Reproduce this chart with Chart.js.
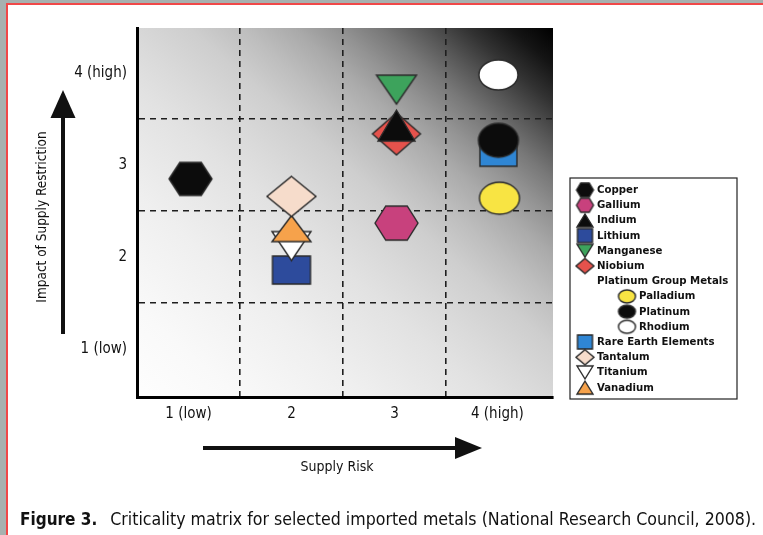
<!DOCTYPE html>
<html>
<head>
<meta charset="utf-8">
<script src="https://cdn.jsdelivr.net/npm/chart.js@4.4.0/dist/chart.umd.min.js"></script>
<style>
html, body { margin: 0; padding: 0; width: 763px; height: 535px; overflow: hidden; background: #a7b1af; }
#page { position: absolute; left: 6px; top: 3px; width: 757px; height: 532px; background: #fff;
        border-left: 2px solid #f04848; border-top: 2px solid #f04848; box-sizing: border-box; }
#wrap { position: absolute; left: 0; top: 0; width: 763px; height: 535px; }
#caption { position: absolute; left: 20px; top: 509px; white-space: nowrap; color: #111;
           font: 17.6px "Liberation Sans Narrow", "DejaVu Sans Condensed", sans-serif; }
#caption b { font-size: 17px; margin-right: 13px; }
</style>
</head>
<body>
<div id="page"></div>
<div id="wrap"><canvas id="matrix"></canvas></div>
<div id="caption"><b>Figure 3.</b>Criticality matrix for selected imported metals (National Research Council, 2008).</div>
<script>
// data
const metals = ['Copper', 'Gallium', 'Indium', 'Lithium', 'Manganese', 'Niobium', 'Palladium',
                'Platinum', 'Rhodium', 'Rare Earth Elements', 'Tantalum', 'Titanium', 'Vanadium'];
const metalGroup = ['', '', '', '', '', '', 'Platinum Group Metals',
                    'Platinum Group Metals', 'Platinum Group Metals', '', '', '', ''];
const supplyRisk = [1.02, 3.02, 3.02, 2.0, 3.02, 3.02, 4.02, 4.01, 4.01, 4.01, 2.0, 2.0, 2.0];
const impact = [2.85, 2.37, 3.43, 1.86, 3.82, 3.34, 2.64, 3.27, 3.98, 3.14, 2.66, 2.12, 2.31];
const tickValues = [1, 2, 3, 4];
const tickLabels = ['1 (low)', '2', '3', '4 (high)'];
const cellEdges = [1.5, 2.5, 3.5];

// marker look per metal: shape, plot size, fill
const shapes = ['hex', 'hex', 'triUp', 'rect', 'triDown', 'diamond', 'ellipse',
                'ellipse', 'ellipse', 'rect', 'diamond', 'triDown', 'triUp'];
const fills = ['#0c0c0c', '#c8417d', '#0c0c0c', '#2d4b9c', '#3da35c', '#e5524c', '#f8e443',
               '#0c0c0c', '#ffffff', '#2f86d4', '#f6dccb', '#ffffff', '#f6a24b'];
const plotSizes = [[43, 33], [43, 34], [37, 31], [38, 28], [40, 29], [48, 42], [40, 32],
                   [40, 34], [39, 30], [37, 28], [49, 40], [39, 29], [39, 26]];
// lower number is drawn on top
const drawOrder = [0, 0, 1, 3, 0, 2, 0, 1, 0, 2, 0, 2, 1];

const FONT = "'Liberation Sans Narrow', 'DejaVu Sans Condensed', sans-serif";

// draws one marker shape into its own small canvas, used as pointStyle
function makeMarker(shape, w, h, fill) {
    const pad = 2;
    const c = document.createElement('canvas');
    c.width = w + pad * 2;
    c.height = h + pad * 2;
    const g = c.getContext('2d');
    const l = pad, t = pad, r = pad + w, b = pad + h;
    const cx = pad + w / 2, cy = pad + h / 2;
    g.beginPath();
    if (shape === 'hex') {
        g.moveTo(l, cy); g.lineTo(l + w * 0.25, t); g.lineTo(l + w * 0.75, t);
        g.lineTo(r, cy); g.lineTo(l + w * 0.75, b); g.lineTo(l + w * 0.25, b);
    } else if (shape === 'triUp') {
        g.moveTo(cx, t); g.lineTo(r, b); g.lineTo(l, b);
    } else if (shape === 'triDown') {
        g.moveTo(l, t); g.lineTo(r, t); g.lineTo(cx, b);
    } else if (shape === 'diamond') {
        g.moveTo(cx, t); g.lineTo(r, cy); g.lineTo(cx, b); g.lineTo(l, cy);
    } else if (shape === 'rect') {
        g.rect(l, t, w, h);
    } else {
        g.ellipse(cx, cy, w / 2, h / 2, 0, 0, Math.PI * 2);
    }
    g.closePath();
    g.fillStyle = fill;
    g.fill();
    g.lineWidth = 1.4;
    g.strokeStyle = '#2a2a2a';
    g.stroke();
    return c;
}

function legendSize(shape) {
    if (shape === 'hex') return [17, 14];
    if (shape === 'diamond') return [18, 15];
    if (shape === 'ellipse') return [17, 13];
    if (shape === 'rect') return [15, 14];
    return [16, 13];
}

const datasets = metals.map((name, i) => ({
    label: name,
    data: [{ x: supplyRisk[i], y: impact[i] }],
    pointStyle: makeMarker(shapes[i], plotSizes[i][0], plotSizes[i][1], fills[i]),
    pointRadius: 15,
    order: drawOrder[i]
}));

// diagonal shading behind the cells: black at top right, white at bottom left
const shadePlugin = {
    id: 'shade',
    beforeDraw(chart) {
        const { ctx, chartArea: a } = chart;
        const grad = ctx.createLinearGradient(a.right, a.top, a.left + 40, a.bottom + 60);
        grad.addColorStop(0, '#000000');
        grad.addColorStop(0.05, '#141414');
        grad.addColorStop(0.1, '#323232');
        grad.addColorStop(0.15, '#565656');
        grad.addColorStop(0.2, '#787878');
        grad.addColorStop(0.25, '#939393');
        grad.addColorStop(0.3, '#aaaaaa');
        grad.addColorStop(0.36, '#bebebe');
        grad.addColorStop(0.42, '#cecece');
        grad.addColorStop(0.5, '#dadada');
        grad.addColorStop(0.56, '#e2e2e2');
        grad.addColorStop(0.7, '#efefef');
        grad.addColorStop(0.85, '#f9f9f9');
        grad.addColorStop(1, '#ffffff');
        ctx.save();
        ctx.fillStyle = grad;
        ctx.fillRect(a.left, a.top, a.right - a.left, a.bottom - a.top);
        ctx.restore();
    }
};

// arrows, axis titles and the boxed legend
const decorPlugin = {
    id: 'decor',
    afterDraw(chart) {
        const { ctx, chartArea: a } = chart;
        ctx.save();
        ctx.fillStyle = '#111';
        ctx.strokeStyle = '#111';

        // vertical arrow
        ctx.lineWidth = 4;
        ctx.beginPath();
        ctx.moveTo(a.left - 74, a.bottom - 63);
        ctx.lineTo(a.left - 74, a.top + 86);
        ctx.stroke();
        ctx.beginPath();
        ctx.moveTo(a.left - 74, a.top + 62);
        ctx.lineTo(a.left - 61.5, a.top + 90);
        ctx.lineTo(a.left - 86.5, a.top + 90);
        ctx.closePath();
        ctx.fill();

        // horizontal arrow
        ctx.beginPath();
        ctx.moveTo(a.left + 66, a.bottom + 51);
        ctx.lineTo(a.left + 322, a.bottom + 51);
        ctx.stroke();
        ctx.beginPath();
        ctx.moveTo(a.left + 345, a.bottom + 51);
        ctx.lineTo(a.left + 318, a.bottom + 40);
        ctx.lineTo(a.left + 318, a.bottom + 62);
        ctx.closePath();
        ctx.fill();

        ctx.textAlign = 'center';
        ctx.textBaseline = 'middle';
        ctx.font = '14px ' + FONT;
        ctx.fillText('Supply Risk', a.left + 200, a.bottom + 70);
        ctx.save();
        ctx.translate(a.left - 95, a.top + 189);
        ctx.rotate(-Math.PI / 2);
        ctx.font = '13.5px ' + FONT;
        ctx.fillText('Impact of Supply Restriction', 0, 0);
        ctx.restore();

        // legend box
        const boxL = a.right + 17, boxT = a.top + 150;
        ctx.lineWidth = 1.2;
        ctx.strokeStyle = '#222';
        ctx.strokeRect(boxL, boxT, 167, 221);
        ctx.font = 'bold 11.3px ' + FONT;
        ctx.textAlign = 'left';
        let rowY = boxT + 12;
        let lastGroup = '';
        metals.forEach((name, i) => {
            const group = metalGroup[i];
            if (group && group !== lastGroup) {
                ctx.fillText(group, boxL + 27, rowY);
                rowY += 15.2;
            }
            lastGroup = group;
            const indent = group ? 42 : 0;
            const [w, h] = legendSize(shapes[i]);
            const m = makeMarker(shapes[i], w, h, fills[i]);
            ctx.drawImage(m, boxL + 15 + indent - m.width / 2, rowY - m.height / 2);
            ctx.fillText(name, boxL + 27 + indent, rowY);
            rowY += 15.2;
        });
        ctx.restore();
    }
};

function gridColor(c) {
    return c.tick && cellEdges.includes(c.tick.value) ? '#1e1e1e' : 'rgba(0,0,0,0)';
}

function labelFor(value) {
    const k = tickValues.indexOf(value);
    return k >= 0 ? tickLabels[k] : '';
}

function setTicks(scale) {
    scale.ticks = tickValues.concat(cellEdges).sort((p, q) => p - q).map(v => ({ value: v }));
}

new Chart(document.getElementById('matrix'), {
    type: 'scatter',
    data: { datasets: datasets },
    options: {
        responsive: true,
        maintainAspectRatio: false,
        animation: false,
        events: [],
        layout: { padding: { left: 0, top: 28, right: 210, bottom: 98 } },
        plugins: { legend: { display: false }, tooltip: { enabled: false } },
        scales: {
            x: {
                type: 'linear',
                min: 0.5,
                max: 4.54,
                afterBuildTicks: setTicks,
                afterFit(scale) { scale.height = 40; },
                ticks: { callback: labelFor, color: '#111', padding: 8, autoSkip: false, maxRotation: 0,
                         font: { family: FONT, size: 15 } },
                grid: { color: gridColor, lineWidth: 1.6, drawTicks: false },
                border: { color: '#000', width: 3, dash: [6, 5] }
            },
            y: {
                type: 'linear',
                min: 0.48,
                max: 4.49,
                afterBuildTicks: setTicks,
                afterFit(scale) { scale.width = 137; },
                ticks: { callback: labelFor, color: '#111', padding: 10, autoSkip: false,
                         font: { family: FONT, size: 15 } },
                grid: { color: gridColor, lineWidth: 1.6, drawTicks: false },
                border: { color: '#000', width: 3, dash: [6, 5] }
            }
        }
    },
    plugins: [shadePlugin, decorPlugin]
});
</script>
</body>
</html>
